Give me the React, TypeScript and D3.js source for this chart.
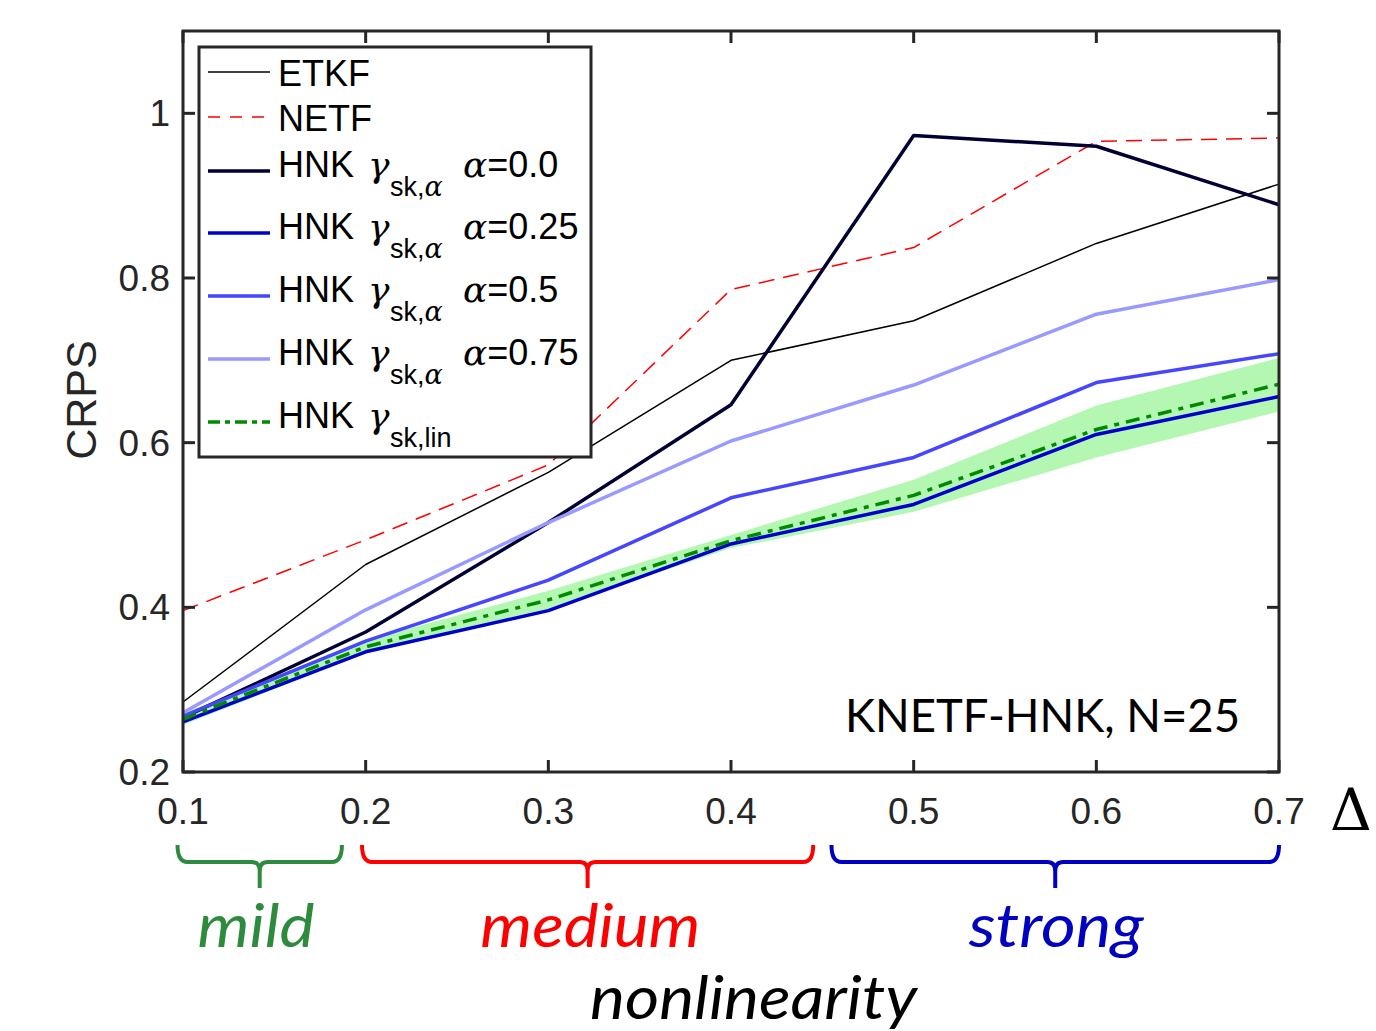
import React from "react";
import * as d3 from "d3";

const deltas = [0.1, 0.2, 0.3, 0.4, 0.5, 0.6, 0.7];
const etkf = [0.285, 0.452, 0.564, 0.7, 0.748, 0.842, 0.914];
const netf = [0.396, 0.482, 0.573, 0.786, 0.837, 0.966, 0.97];
const hnk00 = [0.266, 0.37, 0.503, 0.646, 0.973, 0.96, 0.889];
const hnk025 = [0.261, 0.346, 0.396, 0.477, 0.525, 0.61, 0.656];
const hnk05 = [0.268, 0.359, 0.433, 0.533, 0.582, 0.673, 0.708];
const hnk075 = [0.272, 0.397, 0.503, 0.602, 0.67, 0.756, 0.798];
const hnkLin = [0.264, 0.352, 0.409, 0.481, 0.536, 0.616, 0.671];
const linLow = [0.257, 0.344, 0.397, 0.472, 0.516, 0.582, 0.638];
const linHigh = [0.271, 0.36, 0.42, 0.488, 0.555, 0.645, 0.703];
const xTicks = [0.1, 0.2, 0.3, 0.4, 0.5, 0.6, 0.7];
const yTicks = [0.2, 0.4, 0.6, 0.8, 1.0];
const yTickLabels = ["0.2", "0.4", "0.6", "0.8", "1"];

const regimes = ["mild", "medium", "strong"];
const regimeStart = [0.097, 0.198, 0.455];
const regimeEnd = [0.187, 0.445, 0.7];
const regimeColors = ["#2e8b3e", "#ff0000", "#0000c0"];
const regimeLabelWidths = [117, 220, 175];
const regimeLabelCenters = [0.14, 0.323, 0.578];

const W = 1376, H = 1031;
const left = 183, right = 1279, top = 31, bottom = 772;
const axisColor = "#262626";

const series = [
  { name: "ETKF", values: etkf, color: "#000000", width: 1.5, dash: "" },
  { name: "NETF", values: netf, color: "#ff0000", width: 1.5, dash: "16,9" },
  { name: "a0", values: hnk00, color: "#000033", width: 3.5, dash: "" },
  { name: "a025", values: hnk025, color: "#0000cc", width: 3.5, dash: "" },
  { name: "a05", values: hnk05, color: "#4646ff", width: 3.5, dash: "" },
  { name: "a075", values: hnk075, color: "#9999ff", width: 3.5, dash: "" },
  { name: "lin", values: hnkLin, color: "#008a00", width: 3.5, dash: "14,7,5,7" },
];

const legendRows = [
  { key: "ETKF", lineY: 72, base: 86, alpha: null },
  { key: "NETF", lineY: 117, base: 131, alpha: null },
  { key: "a0", lineY: 171, base: 177, alpha: "0.0" },
  { key: "a025", lineY: 233, base: 239, alpha: "0.25" },
  { key: "a05", lineY: 296, base: 302, alpha: "0.5" },
  { key: "a075", lineY: 359, base: 365, alpha: "0.75" },
  { key: "lin", lineY: 422, base: 428, alpha: "lin" },
];

export default function App() {
  const x = d3.scaleLinear().domain([0.1, 0.7]).range([left, right]);
  const y = d3.scaleLinear().domain([0.2, 1.1]).range([bottom, top]);
  const line = d3
    .line<number>()
    .x((_, i) => x(deltas[i]))
    .y((d) => y(d));
  const area = d3
    .area<number>()
    .x((_, i) => x(deltas[i]))
    .y0((_, i) => y(linLow[i]))
    .y1((_, i) => y(linHigh[i]));

  const sans = "'Liberation Sans', Arial, Helvetica, sans-serif";
  const serif = "'DejaVu Serif', 'Liberation Serif', serif";
  const calibri = "Lato, 'Open Sans', sans-serif";

  const brace = (x0: number, x1: number) => {
    const cx = (x0 + x1) / 2;
    const yt = 845, yh = 862, yb = 888;
    return `M${x0},${yt} Q${x0},${yh} ${x0 + 10},${yh} L${cx - 8},${yh} Q${cx},${yh} ${cx},${yh + 9} L${cx},${yb} M${cx},${yh + 9} Q${cx},${yh} ${cx + 8},${yh} L${x1 - 10},${yh} Q${x1},${yh} ${x1},${yt}`;
  };

  return (
    <svg width={W} height={H} style={{ position: "absolute", left: 0, top: 0, background: "#fff" }}>
      <rect x={0} y={0} width={W} height={H} fill="#fff" />
      <path d={area(hnkLin) || ""} fill="#b3f7b3" stroke="none" />
      {series.map((s) => (
        <path
          key={s.name}
          d={line(s.values) || ""}
          fill="none"
          stroke={s.color}
          strokeWidth={s.width}
          strokeDasharray={s.dash || undefined}
          strokeLinejoin="round"
        />
      ))}
      {/* axes box */}
      <rect x={left} y={top} width={right - left} height={bottom - top} fill="none" stroke={axisColor} strokeWidth={3} />
      {xTicks.map((t) => (
        <g key={"xt" + t}>
          <line x1={x(t)} x2={x(t)} y1={bottom} y2={bottom - 12} stroke={axisColor} strokeWidth={3} />
          <line x1={x(t)} x2={x(t)} y1={top} y2={top + 12} stroke={axisColor} strokeWidth={3} />
          <text x={x(t)} y={824} textAnchor="middle" fontFamily={sans} fontSize={37} fill={axisColor}>
            {t.toFixed(1)}
          </text>
        </g>
      ))}
      {yTicks.map((t, i) => (
        <g key={"yt" + t}>
          <line x1={left} x2={left + 12} y1={y(t)} y2={y(t)} stroke={axisColor} strokeWidth={3} />
          <line x1={right} x2={right - 12} y1={y(t)} y2={y(t)} stroke={axisColor} strokeWidth={3} />
          <text x={170} y={y(t) + 13} textAnchor="end" fontFamily={sans} fontSize={37} fill={axisColor}>
            {yTickLabels[i]}
          </text>
        </g>
      ))}
      <text
        transform={`translate(96,400) rotate(-90)`}
        textAnchor="middle"
        fontFamily={sans}
        fontSize={43}
        fill={axisColor}
      >
        CRPS
      </text>
      <text x={1351} y={830} textAnchor="middle" fontFamily={serif} fontSize={58} fill="#000">
        Δ
      </text>
      <text x={845} y={732} fontFamily={calibri} fontSize={46} fill="#000" textLength={395} lengthAdjust="spacingAndGlyphs">
        KNETF-HNK, N=25
      </text>

      {/* legend */}
      <rect x={199} y={47} width={392} height={410} fill="#fff" stroke={axisColor} strokeWidth={3} />
      {legendRows.map((r) => {
        const s = series.find((q) => q.name === r.key)!;
        return (
          <g key={"lg" + r.key}>
            <line
              x1={208}
              x2={270}
              y1={r.lineY}
              y2={r.lineY}
              stroke={s.color}
              strokeWidth={s.width}
              strokeDasharray={s.name === "NETF" ? "12,10" : s.name === "lin" ? "12,5,5,5" : undefined}
            />
            {r.alpha === null ? (
              <text x={278} y={r.base} fontFamily={sans} fontSize={36} fill="#000">
                {s.name}
              </text>
            ) : (
              <g>
                <text x={278} y={r.base} fontFamily={sans} fontSize={36} fill="#000">
                  HNK
                </text>
                <text x={368} y={r.base} fontFamily={serif} fontStyle="italic" fontSize={36} fill="#000">
                  γ
                </text>
                <text x={390} y={r.base + 19} fontSize={27} fill="#000">
                  <tspan fontFamily={sans}>{r.alpha === "lin" ? "sk,lin" : "sk,"}</tspan>
                  {r.alpha === "lin" ? null : (
                    <tspan fontFamily={serif} fontStyle="italic">α</tspan>
                  )}
                </text>
                {r.alpha === "lin" ? null : (
                  <text x={463} y={r.base} fontSize={36} fill="#000">
                    <tspan fontFamily={serif} fontStyle="italic">α</tspan>
                    <tspan fontFamily={sans}>={r.alpha}</tspan>
                  </text>
                )}
              </g>
            )}
          </g>
        );
      })}

      {/* braces */}
      {regimes.map((name, i) => {
        const x0 = x(regimeStart[i]);
        const x1 = x(regimeEnd[i]);
        const cx = x(regimeLabelCenters[i]);
        return (
          <g key={name}>
            <path d={brace(x0, x1)} fill="none" stroke={regimeColors[i]} strokeWidth={4} />
            <text
              x={cx - regimeLabelWidths[i] / 2}
              y={947}
              fontFamily={calibri}
              fontStyle="italic"
              fontSize={60}
              fill={regimeColors[i]}
              textLength={regimeLabelWidths[i]}
              lengthAdjust="spacingAndGlyphs"
            >
              {name}
            </text>
          </g>
        );
      })}
      <text
        x={590}
        y={1019}
        fontFamily={calibri}
        fontStyle="italic"
        fontSize={60}
        fill="#000"
        textLength={327}
        lengthAdjust="spacingAndGlyphs"
      >
        nonlinearity
      </text>
    </svg>
  );
}
